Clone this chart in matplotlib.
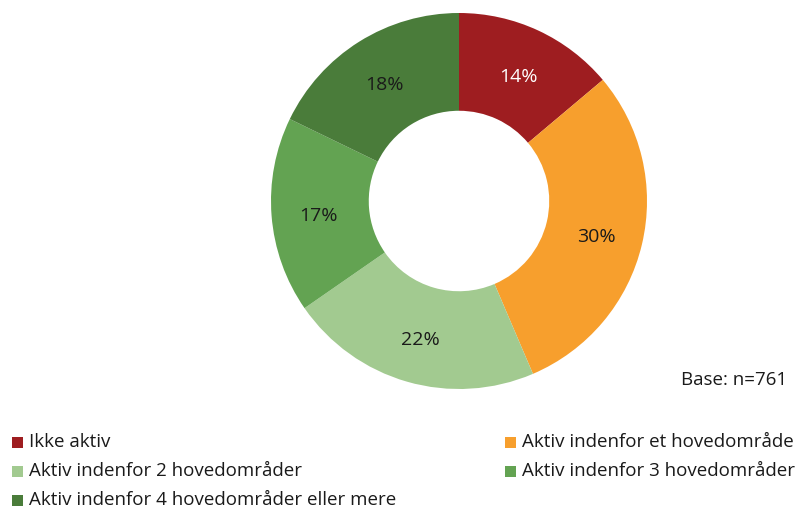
import matplotlib
matplotlib.use("Agg")
import numpy as np
import matplotlib.pyplot as plt

plt.rcParams['font.family'] = ['Open Sans', 'DejaVu Sans']

labels = ["Ikke aktiv", "Aktiv indenfor et hovedområde", "Aktiv indenfor 2 hovedområder",
          "Aktiv indenfor 3 hovedområder", "Aktiv indenfor 4 hovedområder eller mere"]
shares = [14, 30, 22, 17, 18]
colors = ["#9E1D20", "#F79F2D", "#A2CA90", "#63A352", "#4A7C3A"]
text_colors = ["white", "#1a1a1a", "#1a1a1a", "#1a1a1a", "#1a1a1a"]
base_note = "Base: n=761"

W, H = 799, 512
fig = plt.figure(figsize=(W / 100, H / 100), dpi=100)

# donut: centre (459, 201) px, outer radius 188 px
cx, cy, r = 459, 201, 188
ax = fig.add_axes([(cx - r) / W, (H - cy - r) / H, 2 * r / W, 2 * r / H])
wedges, texts = ax.pie(shares, colors=colors, startangle=90, counterclock=False,
                       radius=1, wedgeprops=dict(width=0.52, edgecolor="none"))
for w, s, tc in zip(wedges, shares, text_colors):
    ang = np.deg2rad((w.theta1 + w.theta2) / 2)
    ax.text(0.75 * np.cos(ang), 0.75 * np.sin(ang) - 0.02, f"{s}%", ha="center", va="center",
            fontsize=14, color=tc)
ax.set_xlim(-1, 1)
ax.set_ylim(-1, 1)
ax.set_aspect("equal")
ax.axis("off")

fig.text(787 / W, 1 - 380 / H, base_note, ha="right", va="center", fontsize=13.5, color="#1a1a1a")

# legend, two columns
order_pos = [(12, 442), (505, 442), (12, 471), (505, 471), (12, 500)]
for lab, (x, y), c in zip(labels, order_pos, colors):
    fig.patches.append(plt.Rectangle((x / W, 1 - (y + 6) / H), 11 / W, 11 / H,
                                     transform=fig.transFigure, facecolor=c, edgecolor="none"))
    fig.text((x + 17) / W, 1 - y / H, lab, ha="left", va="center", fontsize=13.5, color="#1a1a1a")

fig.savefig("out.png", dpi=100)
